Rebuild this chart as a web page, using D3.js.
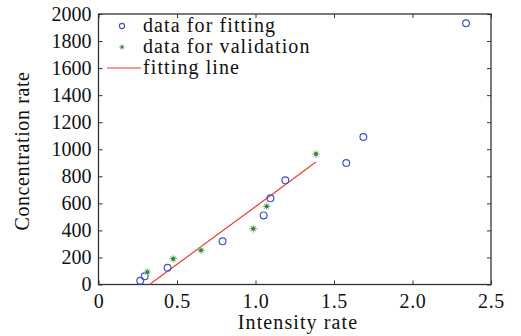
<!DOCTYPE html>
<html><head><meta charset="utf-8">
<script src="https://cdn.jsdelivr.net/npm/d3@7"></script>
<style>body{margin:0;background:#fff}svg{display:block}text{font-family:"Liberation Serif","Times New Roman",serif;fill:#111}</style>
</head><body><div id="c"></div>
<script>
const fitX = [0.266, 0.294, 0.44, 0.79, 1.052, 1.095, 1.19, 1.578, 1.687, 2.341];
const fitY = [28, 61, 124, 319, 511, 637, 770, 898, 1091, 1931];
const valX = [0.311, 0.476, 0.653, 0.986, 1.071, 1.385];
const valY = [92, 191, 253, 413, 578, 965];
const lineX = [0.325, 1.385];
const lineY = [0, 905];
const xTicks = [0, 0.5, 1.0, 1.5, 2.0, 2.5];
const xTickLabels = ["0", "0.5", "1.0", "1.5", "2.0", "2.5"];
const yTicks = [0, 200, 400, 600, 800, 1000, 1200, 1400, 1600, 1800, 2000];
const legendLabels = ["data for fitting", "data for validation", "fitting line"];

const W = 521, H = 336;
const FONT = '"Liberation Serif","Times New Roman",serif';
const svg = d3.select("#c").append("svg").attr("width", W).attr("height", H);
const x = d3.scaleLinear().domain([0, 2.5]).range([98.5, 491]);
const y = d3.scaleLinear().domain([0, 2000]).range([284.5, 14]);

const fs = 20;
svg.append("rect").attr("x", x(0)).attr("y", y(2000)).attr("width", x(2.5) - x(0)).attr("height", y(0) - y(2000))
  .attr("fill", "none").attr("stroke", "#333").attr("stroke-width", 1.3);

const gx = svg.append("g").attr("transform", `translate(0,${y(0)})`)
  .call(d3.axisBottom(x).tickValues(xTicks).tickFormat((d, i) => xTickLabels[i]).tickSizeInner(-4).tickSizeOuter(0).tickPadding(9));
gx.select(".domain").remove();
gx.selectAll("line").attr("stroke", "#333");
gx.selectAll("text").attr("font-size", fs).style("font-family", FONT).attr("fill", "#111").attr("letter-spacing", 0.6);
const gt = svg.append("g").attr("transform", `translate(0,${y(2000)})`)
  .call(d3.axisTop(x).tickValues(xTicks).tickFormat("").tickSizeInner(-4).tickSizeOuter(0));
gt.select(".domain").remove(); gt.selectAll("line").attr("stroke", "#333");

const gy = svg.append("g").attr("transform", `translate(${x(0)},0)`)
  .call(d3.axisLeft(y).tickValues(yTicks).tickFormat(d3.format("d")).tickSizeInner(-4).tickSizeOuter(0).tickPadding(7));
gy.select(".domain").remove();
gy.selectAll("line").attr("stroke", "#333");
gy.selectAll("text").attr("font-size", fs).style("font-family", FONT).attr("fill", "#111");
const gr = svg.append("g").attr("transform", `translate(${x(2.5)},0)`)
  .call(d3.axisRight(y).tickValues(yTicks).tickFormat("").tickSizeInner(-4).tickSizeOuter(0));
gr.select(".domain").remove(); gr.selectAll("line").attr("stroke", "#333");

svg.append("text").attr("x", 298).attr("y", 329).attr("text-anchor", "middle").attr("font-size", 20).attr("letter-spacing", 1.1).text("Intensity rate");
svg.append("text").attr("transform", `translate(29,151) rotate(-90)`).attr("text-anchor", "middle").attr("font-size", 20).attr("letter-spacing", 0.6).text("Concentration rate");

svg.append("path").datum(lineX.map((d, i) => [d, lineY[i]]))
  .attr("d", d3.line().x(d => x(d[0])).y(d => y(d[1])))
  .attr("stroke", "#ee3b2b").attr("stroke-width", 1.2).attr("fill", "none");

svg.append("g").selectAll("circle").data(fitX.map((d, i) => [d, fitY[i]])).join("circle")
  .attr("cx", d => x(d[0])).attr("cy", d => y(d[1])).attr("r", 3.4)
  .attr("fill", "none").attr("stroke", "#3b55c6").attr("stroke-width", 1.2);

const vg = svg.append("g");
valX.forEach((d, i) => {
  const g = vg.append("g").attr("transform", `translate(${x(d)},${y(valY[i])})`);
  g.append("path").attr("d", "M-4,0H4M0,-4V4M-2.6,-2.6L2.6,2.6M-2.6,2.6L2.6,-2.6").attr("stroke", "#8cc08c").attr("stroke-width", 1.1);
  g.append("circle").attr("r", 1.9).attr("fill", "#3c7f3c");
});

const lg = svg.append("g");
lg.append("circle").attr("cx", 122).attr("cy", 26).attr("r", 2.6).attr("fill", "none").attr("stroke", "#3b55c6").attr("stroke-width", 1.1);
const ls = lg.append("g").attr("transform", "translate(122,47)");
ls.append("path").attr("d", "M-3,0H3M0,-3V3M-2,-2L2,2M-2,2L2,-2").attr("stroke", "#8cc08c").attr("stroke-width", 1);
ls.append("circle").attr("r", 1.3).attr("fill", "#3c7f3c");
lg.append("line").attr("x1", 107).attr("x2", 141).attr("y1", 68).attr("y2", 68).attr("stroke", "#ee3b2b").attr("stroke-width", 1);
lg.selectAll("text.l").data(legendLabels).join("text").attr("class", "l")
  .attr("x", 143).attr("y", (d, i) => 32 + i * 21).attr("font-size", 20).attr("letter-spacing", 1.1).text(d => d);
</script></body></html>
